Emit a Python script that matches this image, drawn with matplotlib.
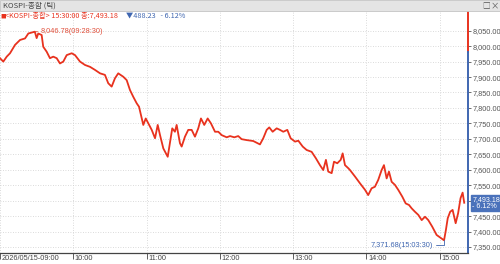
import matplotlib.pyplot as plt
import matplotlib.transforms as mtransforms
from matplotlib.patches import Rectangle

# KOSPI tick chart
# minutes after 09:00
minutes = [0, 2.7, 5.5, 8.2, 12.3, 16.4, 20.5, 23.2, 28.5, 30.0, 31.3, 34.1, 35.4, 38.2,
           40.9, 43.6, 46.4, 49.1, 51.8, 54.6, 58.7, 61.4, 65.5, 69.6, 73.7, 77.8, 81.9,
           85.9, 88.6, 91.4, 94.1, 96.8,
           100.9, 103.7, 106.4, 109.1, 111.9, 113.8, 116.0, 117.3, 119.3, 121.4, 124.2,
           126.9, 129.1, 131.0, 133.7, 137.3, 139.1, 141.0, 143.2, 144.6, 147.3, 148.7,
           151.4, 154.1, 156.9, 159.6, 162.3, 164.5, 167.2, 170.0, 172.7, 176.0, 178.7,
           181.5, 185.6, 188.3, 191.8,
           195.0, 197.8, 201.9, 207.3, 212.8, 215.5, 218.3, 220.4, 223.2, 226.5, 229.2,
           231.9, 235.2, 237.9, 241.5, 244.2, 247.8, 251.0, 255.1, 258.6, 261.9, 264.6,
           266.8, 268.7, 271.5, 273.4, 276.1, 278.9, 280.5, 282.4, 285.1,
           286.5, 290.6, 294.7, 298.8, 301.4, 304.2, 306.9, 309.6, 312.4, 314.3, 316.5,
           318.4, 320.6, 323.3, 326.0, 329.3, 332.1, 334.8, 337.0, 339.7, 342.4, 345.2,
           347.9, 350.6, 353.8, 357.4, 363.5, 365.0, 366.5, 368.5, 370.5, 373.0, 375.0,
           377.0, 378.7, 380.0]
prices = [7961, 7950, 7966, 7977, 8004, 8020, 8025, 8041, 8046.78, 8026, 8041, 8036, 7998, 7982,
          7961, 7966, 7961, 7944, 7950, 7971, 7977, 7971, 7950, 7939, 7933, 7923, 7912,
          7907, 7880, 7869, 7896, 7912,
          7901, 7890, 7858, 7836, 7815, 7804, 7766, 7745, 7766, 7750, 7729,
          7702, 7745, 7712, 7669, 7642, 7686, 7734, 7723, 7745, 7686, 7675,
          7707, 7729, 7729, 7707, 7734, 7766, 7745, 7766, 7750, 7723, 7723,
          7712, 7705, 7709, 7705,
          7709, 7699, 7696, 7693, 7682, 7702, 7729, 7737, 7723, 7734, 7729,
          7723, 7729, 7702, 7691, 7694, 7675, 7664, 7658, 7637, 7615, 7599,
          7632, 7594, 7589, 7626, 7621, 7632, 7653, 7615, 7605,
          7599, 7578, 7556, 7535, 7518, 7540, 7545, 7567, 7599, 7615, 7572,
          7594, 7561, 7551, 7535, 7513, 7491, 7486, 7475, 7464, 7454, 7437,
          7448, 7437, 7416, 7389, 7371.68, 7405, 7443, 7464, 7470, 7427, 7459,
          7508, 7526, 7493.18]

prev_close = 7981.41
high_t, high_v = 28.5, 8046.78
low_t, low_v = 363.5, 7371.68
yticks = list(range(7350, 8051, 50))
hour_ticks = [0, 60, 120, 180, 240, 300, 360]
hour_labels = ['2026/05/15-09:00', '10:00', '11:00', '12:00', '13:00', '14:00', '15:00']

RED = '#e8321e'
BLUE = '#3f66b0'
KR = ['Noto Sans CJK KR', 'DejaVu Sans']

fig = plt.figure(figsize=(5, 2.64), dpi=100)
ax = fig.add_axes([0, 11 / 264, 468 / 500, 241 / 264])

ax.plot(minutes, prices, color=RED, lw=1.3, solid_joinstyle='round')
ax.set_xlim(0, 383.1)
ax.set_ylim(7330.6, 8110.5)

# grid
ax.set_yticks(yticks)
ax.set_xticks(hour_ticks)
ax.grid(True, color='#cfcfcf', linestyle=(0, (1, 2)), lw=0.6)

# axes styling
for s in ['top', 'left', 'right']:
    ax.spines[s].set_visible(False)
ax.spines['bottom'].set_color('#444444')
ax.spines['bottom'].set_linewidth(0.9)
ax.yaxis.tick_right()
# the 7,500 label sits under the last-price box
ax.set_yticklabels(['' if v == 7500 else f'{v:,.2f}' for v in yticks])
ax.set_xticklabels(hour_labels, ha='left')
ax.tick_params(axis='y', labelsize=5.3, labelcolor='#555555', length=2, width=0.6,
               color='#555555', pad=1)
ax.tick_params(axis='x', labelsize=5.3, labelcolor='#444444', length=4, width=0.6,
               color='#444444', pad=-2.5)
for lab in ax.get_xticklabels():
    lab.set_family('Liberation Sans')
    lab.set_transform(lab.get_transform() + mtransforms.ScaledTranslation(1.5 / 100, 0, fig.dpi_scale_trans))
for lab in ax.get_yticklabels():
    lab.set_family('Liberation Sans')

# right axis line: red above previous close, blue below
trans = mtransforms.blended_transform_factory(ax.transAxes, ax.transData)
ax.plot([1, 1], [prev_close, 8110.5], color=RED, lw=1.4, transform=trans, clip_on=False)
ax.plot([1, 1], [7330.6, prev_close], color=BLUE, lw=1.4, transform=trans, clip_on=False)

# high / low markers
ax.annotate(f'{high_v:,.2f}(09:28:30)', xy=(high_t, high_v), xytext=(4, 0),
            textcoords='offset points', ha='left', va='center', fontsize=5.3,
            color='#e0503c', family='Liberation Sans',
            arrowprops=dict(arrowstyle='-', color='#e0503c', lw=0.6, shrinkA=0, shrinkB=0))
ax.annotate(f'{low_v:,.2f}(15:03:30)', xy=(low_t, low_v), xytext=(-8, -3.5),
            textcoords='offset points', ha='right', va='center', fontsize=5.3,
            color=BLUE, family='Liberation Sans',
            arrowprops=dict(arrowstyle='-', color=BLUE, lw=0.6, shrinkA=0, shrinkB=0,
                            connectionstyle='angle,angleA=0,angleB=90,rad=0'))

# last value box
ax.text(1.009, prices[-1], f'{prices[-1]:,.2f}\n- 6.12%', transform=trans,
        ha='left', va='center', fontsize=5.1, color='white', family='Liberation Sans',
        linespacing=1.0, zorder=5,
        bbox=dict(boxstyle='square,pad=0.15', fc='#4a72bb', ec='#4a72bb'))

# title bar
fig.patches.append(Rectangle((0, 1 - 11 / 264), 1, 11 / 264, transform=fig.transFigure,
                             fc='#e4e4e4', ec='#c4c4c4', lw=0.6))
fig.text(3 / 500, 1 - 5.5 / 264, 'KOSPI-종합 (틱)', fontsize=5.5, color='#444444',
         va='center', ha='left', family=KR)
fig.text(486 / 500, 1 - 5.5 / 264, '□', fontsize=5.5, color='#555555',
         va='center', ha='center', family=KR)
fig.text(495 / 500, 1 - 5.5 / 264, '×', fontsize=6, color='#555555',
         va='center', ha='center', family=KR)

# info line
fig.text(0.5 / 500, 1 - 16 / 264, '■', fontsize=4, color=RED, va='center', ha='left',
         family=KR)
fig.text(5 / 500, 1 - 16 / 264, '<KOSPI-종합> 15:30:00 종:7,493.18', fontsize=5.2,
         color=RED, va='center', ha='left', family=KR)
fig.text(126 / 500, 1 - 16 / 264, '▼488.23   - 6.12%', fontsize=5.2,
         color=BLUE, va='center', ha='left', family=KR)

fig.savefig('out.png', dpi=100)
